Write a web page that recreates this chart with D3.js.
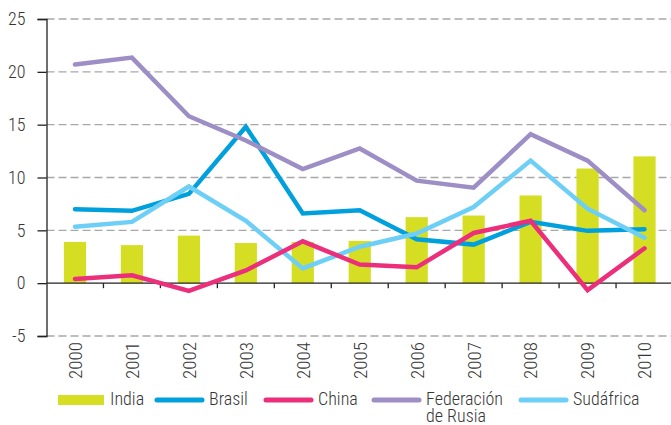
<!DOCTYPE html>
<html>
<head>
<meta charset="utf-8">
<script src="https://cdn.jsdelivr.net/npm/d3@7"></script>
<style>
body { margin: 0; background: #fff; }
text { font-family: "Liberation Sans Narrow", "Roboto Condensed", "Arial Narrow", sans-serif; font-weight: 300; fill: #363636; }
</style>
</head>
<body>
<svg id="chart" width="671" height="425"></svg>
<script>
var years = ["2000","2001","2002","2003","2004","2005","2006","2007","2008","2009","2010"];
var yTicks = [-5, 0, 5, 10, 15, 20, 25];

var india     = [3.9, 3.6, 4.5, 3.8, 3.9, 4.0, 6.25, 6.4, 8.3, 10.85, 12.0];
var brasil    = [7.0, 6.85, 8.45, 14.8, 6.6, 6.9, 4.15, 3.65, 5.8, 4.95, 5.1];
var china     = [0.4, 0.75, -0.73, 1.2, 3.96, 1.76, 1.5, 4.75, 5.9, -0.66, 3.3];
var rusia     = [20.7, 21.35, 15.8, 13.5, 10.8, 12.75, 9.7, 9.03, 14.1, 11.6, 6.9];
var sudafrica = [5.35, 5.8, 9.15, 5.9, 1.4, 3.45, 4.7, 7.2, 11.6, 7.05, 4.3];

var lineSeries = [
	{ name: "Brasil", values: brasil, color: "#00a0dc" },
	{ name: "Sudáfrica", values: sudafrica, color: "#6dcff6" },
	{ name: "China", values: china, color: "#ec2f7b" },
	{ name: "Federación de Rusia", values: rusia, color: "#9d8ec5" }
];

var svg = d3.select("#chart");
var plotLeft = 46.5, plotRight = 673, plotTop = 19, plotBottom = 336;

var x = d3.scaleBand().domain(years).range([plotLeft, plotRight]).padding(0);
var y = d3.scaleLinear().domain([-5, 25]).range([plotBottom, plotTop]);

// dashed grid
svg.append("g").selectAll("line")
	.data(yTicks.filter(function (d) { return d != 0; }))
	.enter().append("line")
	.attr("x1", plotLeft).attr("x2", 671)
	.attr("y1", function (d) { return y(d); })
	.attr("y2", function (d) { return y(d); })
	.attr("stroke", "#a8a8a8")
	.attr("stroke-width", 1.4)
	.attr("stroke-dasharray", "8,4");

// india bars
var bw = x.bandwidth() * 0.39;
svg.append("g").selectAll("rect")
	.data(india)
	.enter().append("rect")
	.attr("x", function (d, i) { return x(years[i]) + x.bandwidth() / 2 - bw / 2; })
	.attr("y", function (d) { return y(d); })
	.attr("width", bw)
	.attr("height", function (d) { return y(0) - y(d); })
	.attr("fill", "#d6de23");

// y axis
var yAxis = svg.append("g").attr("transform", "translate(" + plotLeft + ",0)")
	.call(d3.axisLeft(y).tickValues(yTicks).tickSize(9).tickPadding(12)
		.tickFormat(function (d) { return String(d); }));
yAxis.select(".domain").attr("stroke", "#222").attr("stroke-width", 1.3);
yAxis.selectAll(".tick line").attr("stroke", "#222").attr("stroke-width", 1.3);
yAxis.selectAll(".tick text").attr("font-size", 18).attr("fill", "#363636")
	.style("font-family", "'Liberation Sans Narrow', 'Roboto Condensed', 'Arial Narrow', sans-serif")
	.style("font-weight", 300);

// x axis line at zero and boundary ticks
svg.append("line")
	.attr("x1", plotLeft).attr("x2", 671)
	.attr("y1", y(0)).attr("y2", y(0))
	.attr("stroke", "#222").attr("stroke-width", 1.3);
svg.append("g").selectAll("line")
	.data(years.slice(1))
	.enter().append("line")
	.attr("x1", function (d) { return x(d); })
	.attr("x2", function (d) { return x(d); })
	.attr("y1", y(0)).attr("y2", y(0) + 5)
	.attr("stroke", "#222").attr("stroke-width", 1.3);

// year labels
svg.append("g").selectAll("text")
	.data(years)
	.enter().append("text")
	.attr("transform", function (d) { return "translate(" + (x(d) + x.bandwidth() / 2) + ",342) rotate(-90)"; })
	.attr("text-anchor", "end")
	.attr("dy", "0.36em")
	.attr("font-size", 19)
	.text(function (d) { return d; });

// lines
var line = d3.line()
	.x(function (d, i) { return x(years[i]) + x.bandwidth() / 2; })
	.y(function (d) { return y(d); });

svg.append("g").selectAll("path")
	.data(lineSeries)
	.enter().append("path")
	.attr("d", function (s) { return line(s.values); })
	.attr("fill", "none")
	.attr("stroke", function (s) { return s.color; })
	.attr("stroke-width", 4.5)
	.attr("stroke-linecap", "round");

// legend
var lg = svg.append("g");
lg.append("rect").attr("x", 58).attr("y", 395).attr("width", 46).attr("height", 10).attr("fill", "#d6de23");
lg.append("text").attr("x", 110).attr("y", 405).attr("font-size", 18).text("India");

var legendItems = [
	{ name: ["Brasil"], color: "#00a0dc", x: 155 },
	{ name: ["China"], color: "#ec2f7b", x: 264 },
	{ name: ["Federación", "de Rusia"], color: "#9d8ec5", x: 372 },
	{ name: ["Sudáfrica"], color: "#6dcff6", x: 519 }
];
legendItems.forEach(function (it) {
	lg.append("line")
		.attr("x1", it.x + 2).attr("x2", it.x + 47)
		.attr("y1", 400).attr("y2", 400)
		.attr("stroke", it.color).attr("stroke-width", 5).attr("stroke-linecap", "round");
	var t = lg.append("text").attr("x", it.x + 54).attr("y", 405).attr("font-size", 18);
	it.name.forEach(function (s, k) {
		t.append("tspan").attr("x", it.x + 54).attr("dy", k == 0 ? 0 : 16.5).text(s);
	});
});
</script>
</body>
</html>
